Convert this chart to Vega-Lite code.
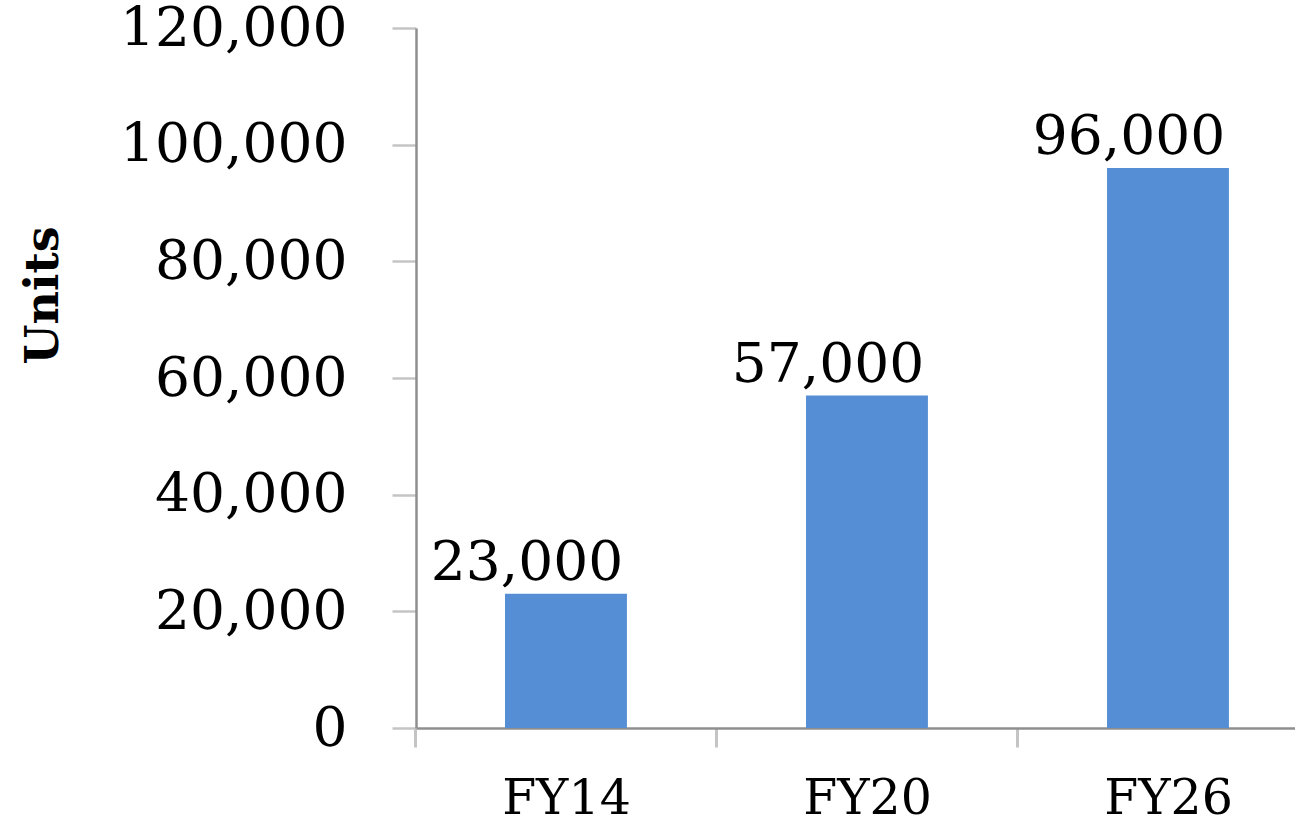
{
  "$schema": "https://vega.github.io/schema/vega-lite/v6.json",
  "width": 879,
  "height": 700,
  "autosize": {"type": "none"},
  "padding": {"left": 416, "top": 28, "right": 0, "bottom": 91},
  "background": "white",
  "config": {"view": {"stroke": null}, "font": "DejaVu Serif"},
  "data": {"values": [
    {"year": "FY14", "units": 23000},
    {"year": "FY20", "units": 57000},
    {"year": "FY26", "units": 96000}
  ]},
  "encoding": {
    "x": {
      "field": "year", "type": "nominal", "sort": null,
      "scale": {"paddingInner": 0.595, "paddingOuter": 0.2576, "align": 0.574, "round": false},
      "axis": {
        "title": null, "labelAngle": 0, "labelFont": "DejaVu Serif", "labelFontSize": 49,
        "labelColor": "black", "labelPadding": 27, "labelLimit": 0, "tickSize": 19, "tickColor": "#c4c4c4",
        "tickWidth": 3, "tickOffset": -150.5, "labelOffset": 150.5,
        "domainColor": "#8f8f8f", "domainWidth": 2.5
      }
    },
    "y": {
      "field": "units", "type": "quantitative",
      "scale": {"domain": [0, 120000], "nice": false},
      "axis": {
        "title": "Units", "titleFont": "DejaVu Serif", "titleFontWeight": "bold", "titleFontSize": 46,
        "titleColor": "black", "titleAngle": -90, "titleX": -373, "titleY": 267,
        "titleAlign": "center", "titleBaseline": "middle",
        "values": [0, 20000, 40000, 60000, 80000, 100000, 120000], "format": ",d",
        "labelFont": "DejaVu Serif", "labelFontSize": 55, "labelColor": "black", "labelPadding": 45,
        "labelLimit": 0,
        "tickSize": 24, "tickColor": "#c4c4c4", "tickWidth": 2.5, "grid": false,
        "domainColor": "#8f8f8f", "domainWidth": 2.5
      }
    }
  },
  "layer": [
    {"mark": {"type": "bar", "color": "#558ed5"}},
    {
      "mark": {"type": "text", "dx": -39, "dy": -14, "baseline": "alphabetic", "fontSize": 55, "font": "DejaVu Serif", "color": "black"},
      "encoding": {"text": {"field": "units", "type": "quantitative", "format": ",d"}}
    }
  ]
}
